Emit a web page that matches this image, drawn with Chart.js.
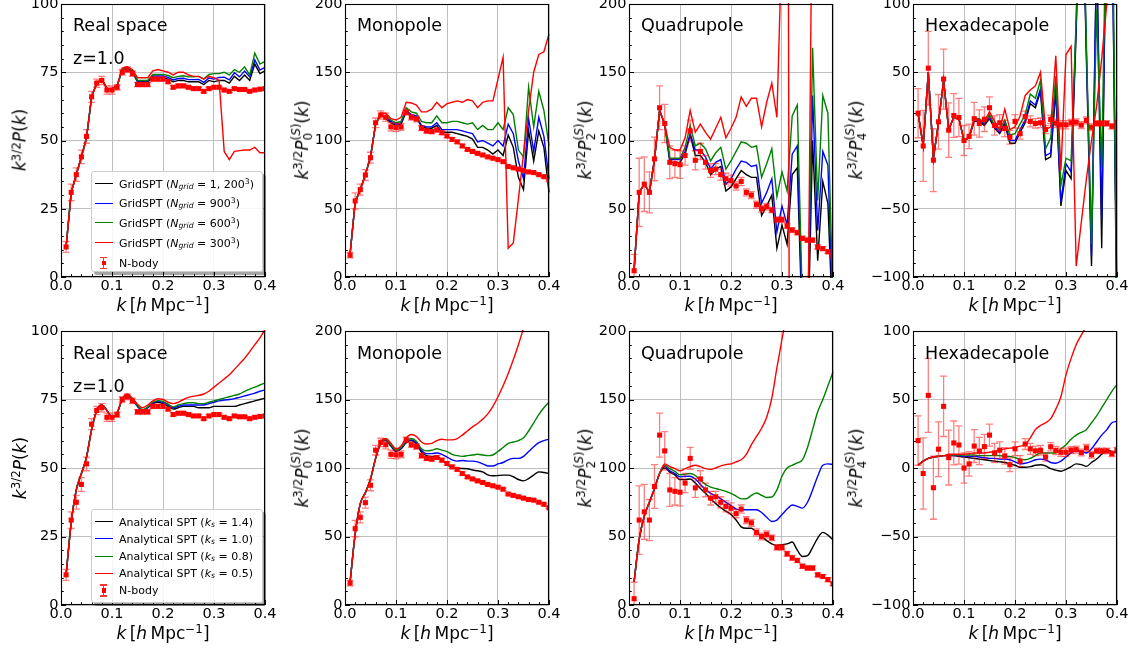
<!DOCTYPE html>
<html>
<head>
<meta charset="utf-8">
<script src="https://cdn.jsdelivr.net/npm/chart.js@4.4.1/dist/chart.umd.min.js"></script>
<style>
  body { margin: 0; background: #fff; font-family: "DejaVu Sans", sans-serif; }
  #wrap { position: relative; width: 1138px; height: 651px; overflow: hidden; }
  canvas { position: absolute; }
  .ttl { position: absolute; font-size: 17.5px; line-height: 1; white-space: nowrap; color: #000; }
  .xl { position: absolute; font-size: 17px; line-height: 1; white-space: nowrap; transform: translate(-50%, -50%); }
  .yl { position: absolute; font-size: 17px; line-height: 1; white-space: nowrap; transform: translate(-50%, -50%) rotate(-90deg); }
  .xl sup, .yl sup, .lg sup { font-size: 70%; line-height: 0; vertical-align: 0.45em; }
  .lg sub { font-size: 70%; line-height: 0; vertical-align: -0.25em; }
  .ss { display: inline-block; font-size: 70%; line-height: 1; vertical-align: -0.35em; }
  .ss span { display: block; }
  .lg { position: absolute; background: rgba(255,255,255,0.85); border: 1px solid #ccc; border-radius: 3px;
        box-shadow: 3px 3px 0 rgba(0,0,0,0.35); font-size: 11px; }
  .lg .smp { position: absolute; left: 3px; width: 18px; height: 0; }
  .lg .txt { position: absolute; left: 27px; line-height: 1; white-space: nowrap; transform: translateY(-50%); }
</style>
</head>
<body>
<div id="wrap"></div>
<script>
// wavenumbers k [h/Mpc]
const kVals = [0.01, 0.02, 0.03, 0.04, 0.05, 0.06, 0.07, 0.08, 0.09, 0.10,
               0.11, 0.12, 0.13, 0.14, 0.15, 0.16, 0.17, 0.18, 0.19, 0.20,
               0.21, 0.22, 0.23, 0.24, 0.25, 0.26, 0.27, 0.28, 0.29, 0.30,
               0.31, 0.32, 0.33, 0.34, 0.35, 0.36, 0.37, 0.38, 0.39, 0.40];

// N-body measurements (same in both rows)
const nbodyReal = [11, 31, 37.5, 44, 51.5, 66, 71, 72, 68.5, 68.5, 69.5, 75, 76, 74.5, 70.5, 70.5, 70.5, 72.5, 72.5, 72.5,
                   71.5, 69.5, 70, 70, 69.5, 69, 69, 68, 69, 69.5, 69.5, 68.5, 68, 69, 68.7, 68.7, 68, 68.5, 68.8, 69];
const errReal = [2, 3, 2.5, 2.5, 2.5, 2, 1.5, 1.5, 1.5, 1.5, 1, 1, 1, 1, 0.8, 0.8, 0.8, 0.7, 0.7, 0.7,
                 0.6, 0.6, 0.6, 0.6, 0.5, 0.5, 0.5, 0.5, 0.5, 0.5, 0.4, 0.4, 0.4, 0.4, 0.4, 0.4, 0.4, 0.4, 0.4, 0.4];
const nbodyMono = [16, 55.7, 64, 74.7, 87.4, 113, 118.7, 117, 110, 109.6, 110, 120.6, 117, 115.7, 109, 107, 106.5, 107.7, 105.7, 103.3,
                   100.8, 99, 96, 93.5, 92, 90.6, 89.4, 88, 87, 86, 84.5, 81, 80, 79, 78, 77, 76.5, 75, 73.5, 71];
const errMono = [2, 6, 4, 4, 4, 3.5, 3, 3, 3, 3, 2.5, 2, 2, 2, 1.8, 1.5, 1.5, 1.3, 1.3, 1.2,
                 1.2, 1.1, 1.1, 1, 1, 1, 1, 0.9, 0.9, 0.9, 0.8, 0.8, 0.8, 0.8, 0.7, 0.7, 0.7, 0.7, 0.7, 0.7];
const nbodyQuad = [4.6, 62, 68, 62, 86.5, 124, 112.5, 84, 83, 82.3, 89, 107, 85.5, 92, 84, 78, 79, 75, 72, 70.6,
                   66.7, 70, 62, 60, 53, 50, 51.5, 49, 42, 42, 37.4, 34.4, 32.5, 28.3, 27, 27, 22, 20.8, 18.5, 15.4];
const errQuad = [12, 25, 20, 15, 16, 16, 14, 12, 10, 10, 7, 8, 7, 6, 5, 5, 4, 4, 4, 4,
                 3, 3, 2.5, 2.5, 2.5, 2.5, 2.5, 2, 2, 2, 1.8, 1.8, 1.6, 1.6, 1.5, 1.5, 1.5, 1.4, 1.4, 1.3];
const nbodyHexa = [20, -4, 53, -14.4, 13.7, 45, 7.6, 18.3, 16.8, 0, 3, 16, 12.4, 15.6, 24, 11, 13, 8.8, 2.4, 14,
                   5, 17.5, 14, 12.5, 13, 8, 15.5, 12.7, 11.5, 11.5, 13, 13.4, 11.3, 14.7, 9.7, 12.5, 12.5, 12.5, 10.4, 13];
const errHexa = [18, 26, 27, 23, 20, 22, 20, 16, 14, 11, 9, 12, 10, 9, 8, 7, 6, 6, 5, 5,
                 4, 4, 4, 3.5, 3.5, 3, 3, 3, 3, 3, 2.5, 2.5, 2.5, 2.5, 2.5, 2, 2, 2, 2, 2];

// GridSPT, N_grid = 1200^3 / 900^3 / 600^3 / 300^3
const gridRealK = [11, 31, 37.5, 44, 51, 66, 71, 72.5, 69, 69, 70, 76, 76.5, 75, 71.5, 71.5, 71.5, 73, 73, 73,
                   72.5, 71.5, 72, 72, 71.5, 71.5, 71.5, 70.5, 72, 71.5, 72, 72, 71, 73.5, 72, 74, 72, 78, 74.5, 75.5];
const gridRealB = [11, 31, 37.5, 44, 51, 66, 71, 72.5, 69, 69, 70, 76, 76.7, 75.2, 71.8, 71.8, 71.8, 73.6, 73.6, 73.6,
                   73.1, 72.2, 72.7, 72.8, 72.3, 72.3, 72.4, 71.3, 72.9, 72.5, 73.1, 73.2, 72.2, 74.8, 73.3, 75.4, 73.3, 79.5, 75.8, 76.8];
const gridRealG = [11, 31, 37.5, 44, 51, 66, 71, 72.5, 69, 69, 70, 76, 77, 75.5, 72, 72, 72, 74.2, 74.2, 74.2,
                   73.8, 73, 73.5, 73.7, 73.3, 73.3, 73.5, 72.5, 74.2, 74.5, 74.5, 75, 74, 76, 75, 77, 74, 82, 78, 79];
const gridRealR = [11, 31, 37.5, 44, 51, 66, 71, 72.5, 69, 69, 70, 76.5, 77, 76, 73, 73, 73, 75.5, 76, 75.5,
                   75, 74, 75, 75, 74, 73.5, 73.5, 72.5, 73.5, 73, 72, 46, 43, 46, 46.3, 46.5, 46.5, 47.5, 45.5, 45.5];

const gridMonoK = [17, 55, 64, 75, 88, 112, 119, 116, 113, 111, 112, 121, 118, 117, 110, 109, 109, 111, 106, 106,
                   106, 105, 104, 103, 101, 95, 95, 93, 90, 93, 89, 104, 95, 73, 64, 107, 85, 107, 95, 62];
const gridMonoB = [17, 55, 64, 75, 88, 112, 119, 117, 114, 112, 113, 122, 119, 118, 111, 110, 110, 113, 108, 108,
                   108, 108, 107, 106, 105, 99, 100, 98, 96, 100, 96, 112, 105, 85, 72, 116, 92, 117, 103, 72];
const gridMonoG = [17, 55, 64, 75, 88, 112, 119, 118, 115, 113, 114, 124, 121, 120, 114, 113, 113, 118, 113, 113,
                   114, 114, 113, 112, 113, 108, 111, 108, 108, 113, 108, 124, 119, 93, 88, 139, 110, 136, 122, 96];
const gridMonoR = [17, 55, 64, 75, 88, 112, 120, 120, 116, 115, 117, 128, 127.5, 126, 121, 121, 123, 128, 124, 127,
                   128, 129, 128, 130, 129, 124, 128, 129, 129, 145, 161, 21, 25, 57, 90, 122, 150, 163, 165, 178];

const gridQuadK = [5, 62, 68, 62, 86, 122, 112, 84, 84, 84, 90, 104, 89, 89, 84, 75, 79, 81, 63, 66,
                   72, 78, 75, 73, 73, 45, 52, 60, 21, 38, 24, 75, 80, -40, -60, 100, 12, 70, 54, -40];
const gridQuadB = [5, 62, 68, 62, 86, 122, 112, 86, 86, 86, 92, 105, 93, 93, 88, 79, 84, 86, 68, 72,
                   79, 85, 84, 81, 82, 54, 62, 72, 33, 52, 38, 90, 96, -30, -50, 133, 34, 92, 82, -30];
const gridQuadG = [5, 62, 68, 62, 86, 122, 112, 87, 87, 87, 95, 111, 96, 98, 94, 85, 91, 95, 79, 85,
                   92, 99, 98, 95, 96, 73, 83, 94, 59, 77, 63, 118, 126, -20, -40, 168, 56, 133, 120, -20];
const gridQuadR = [5, 62, 68, 62, 86, 122, 112, 95, 93, 93, 102, 122, 106, 112, 106, 101, 109, 117, 102, 109,
                   117, 132, 125, 131, 131, 110, 128, 142, 117, 250, 600, -900, -400, -600, -80, 320, 400, 350, 420, 380];

const gridHexaK = [20, -4, 50, -13, 13, 44, 8, 17, 16, 0, 2, 14, 14, 11, 16, 9, 5, 12, -2, -2,
                   6, 13, 27, 24, 36, -14, -12, 36, -48, -22, -28, 80, 220, 60, -92, 140, -79, 200, 180, -150];
const gridHexaB = [20, -4, 50, -13, 13, 44, 8, 17, 16, 0, 2, 15, 15, 12, 17, 10, 6, 13, 0, 0,
                   8, 15, 29, 26, 38, -11, -9, 40, -45, -17, -23, 85, 230, 65, -85, 140, -58, 190, 170, -120];
const gridHexaG = [20, -4, 50, -13, 13, 44, 8, 17, 16, 0, 2, 16, 16, 13, 19, 11, 8, 15, 4, 5,
                   12, 19, 34, 31, 44, -6, 2, 47, -33, -13, -15, 90, 240, 70, -76, 96, -20, 200, 220, -140];
const gridHexaR = [20, -4, 50, -13, 13, 44, 8, 17, 16, 0, 3, 16, 15, 14, 21, 14, 8, 23, 8, 10,
                   18, 33, 37, 40, 50, 8, 10, 62, -22, 63, 69, -92, -60, -28, 0, 25, 60, 100, 140, 180];

// Analytical SPT, k_s = 1.4 / 1.0 / 0.8 / 0.5
const anaRealK = [11, 30, 42, 48, 54, 64, 71, 73, 71, 68.5, 70, 75, 76.5, 75, 72.5, 71, 72, 73.5, 74, 73.5,
                  72.5, 71.5, 72, 72.5, 72.5, 72.5, 72, 72, 72, 72.5, 72.5, 72.5, 72.5, 72.5, 73, 73.5, 74, 74.5, 75, 75.5];
const anaRealB = [11, 30, 42, 48, 54, 64, 71, 73, 71, 68.5, 70, 75, 76.5, 75, 72.5, 71, 72, 73.7, 74.3, 74,
                  73, 72, 72.5, 73, 73, 73, 73, 73, 73.5, 74, 74.5, 74.8, 75, 75.3, 75.8, 76.3, 76.8, 77.3, 78, 78.5];
const anaRealG = [11, 30, 42, 48, 54, 64, 71, 73, 71, 68.5, 70, 75, 76.6, 75.2, 72.8, 71.3, 72.3, 74, 74.6, 74.3,
                  73.3, 72.3, 73, 73.5, 73.8, 73.8, 73.5, 73.5, 74, 74.5, 75, 75.5, 76, 76.5, 77, 78, 78.8, 79.5, 80.3, 81];
const anaRealR = [11, 30, 42, 48, 54, 64, 71, 73, 71, 68.7, 70.3, 75.3, 77, 75.5, 73.3, 72, 73, 74.5, 75.3, 75,
                  74, 73.5, 74, 75, 75.8, 76.2, 76.5, 77, 78, 79.5, 81, 82.5, 84, 86, 88, 90, 92.5, 95, 97.5, 100.5];

const anaMonoK = [17, 52, 74, 82, 92, 107, 118, 120, 116, 112, 114, 118.5, 120, 117.5, 111.5, 109, 108.5, 108.5, 106, 102.5,
                  100.5, 99.6, 99.6, 99.5, 98.5, 98, 97.2, 95, 94.3, 94.5, 94.8, 94.8, 93.6, 91.6, 90.6, 92.3, 94.8, 97.2, 96.7, 96];
const anaMonoB = [17, 52, 74, 82, 92, 107, 118, 120.5, 116.5, 112.5, 114.5, 119, 120.5, 118.5, 113, 110.5, 110.5, 111, 110, 108,
                  106, 105, 105.5, 105, 105, 104.5, 103, 101.5, 101.5, 103, 104, 106, 107, 107, 108.5, 112, 115.5, 118.5, 120, 121];
const anaMonoG = [17, 52, 74, 82, 92, 107, 118, 121, 117, 113, 115, 119.5, 121.5, 119.5, 114, 112.5, 113, 114, 113, 112,
                  110, 109, 108.5, 109, 109.5, 110, 109.5, 109, 109.5, 112, 115, 118, 119, 120, 122, 127, 133, 139, 144, 148];
const anaMonoR = [17, 52, 74, 82, 92, 107, 119, 121.5, 118, 114, 116, 122, 124.5, 123, 119, 117.5, 118, 120, 121, 120.5,
                  120.5, 121.5, 124, 127, 130, 132.5, 135.5, 139.5, 145, 152, 160, 169, 179, 190, 202, 215, 228, 242, 256, 270];

const anaQuadK = [17, 48, 65, 75, 85, 96, 100, 97, 95, 91.5, 91.5, 92, 89, 85, 81.5, 77.5, 74, 71, 68.5, 66,
                  62, 57, 56, 56, 53, 50, 47, 44.6, 43.4, 44, 44.6, 46, 40, 35.4, 36, 42, 48.8, 53, 51, 47.6];
const anaQuadB = [17, 48, 65, 75, 85, 96, 101, 98, 96, 93.5, 94, 94, 92, 88, 84.5, 81.5, 79.5, 77.5, 75, 72.5,
                  70, 69.5, 69.5, 69.5, 69.5, 67.5, 64, 61, 62, 66, 70, 73, 72, 70.7, 75, 84, 94, 102, 103, 102.5];
const anaQuadG = [17, 48, 65, 75, 85, 96, 102, 99.5, 97.5, 95, 95.5, 96, 94.5, 91, 88, 86, 85, 84, 83, 81.5,
                  79.5, 77.5, 77.6, 80, 81.7, 80, 78.5, 78.8, 84, 94, 100, 102, 103.7, 106, 115, 128, 141, 150, 160, 170];
const anaQuadR = [17, 48, 65, 75, 85, 96, 103, 101, 99.5, 98, 99.5, 101, 102, 101, 99.5, 99, 100, 101.5, 102.5, 103,
                  104.5, 106, 110, 117, 123, 129, 137, 151, 173, 194, 215, 240, 270, 300, 330, 360, 390, 420, 450, 480];

const anaHexaK = [2, 5, 7, 8, 8.5, 9, 9, 9, 8.5, 8, 7.5, 7, 6.5, 6, 5.5, 5, 4.5, 4, 3, 2,
                  0.5, 0.5, 1, 2, 2.4, 1.5, -0.5, -1.5, -2.4, -1, 1, 3, 2.5, 1.2, 4, 6.6, 10, 13, 12, 11];
const anaHexaB = [2, 5, 7, 8, 8.5, 9, 9, 9, 9, 8.5, 8.5, 8.5, 8, 7.5, 7, 7, 6.5, 6.5, 6, 4.5,
                  3, 3.5, 4.5, 6, 6.5, 6, 4, 3.5, 5, 8, 11, 13, 12, 11, 14, 19, 24, 28, 33, 34];
const anaHexaG = [2, 5, 7, 8, 8.5, 9, 9.5, 9.5, 9.5, 9.5, 9.5, 9.5, 9, 9, 9, 9, 9, 8.5, 8.5, 7.5,
                  6.5, 6, 7, 9, 11, 11, 11, 11, 14, 17, 21, 24, 26, 28, 33, 38, 44, 50, 56, 61];
const anaHexaR = [2, 5, 7, 8, 8.5, 9, 10, 10, 10, 10, 10.5, 11, 11, 11, 11.5, 12, 13, 14, 14.5, 15,
                  16, 17, 22, 28, 31, 33, 36, 43, 52, 68, 80, 90, 97, 104, 115, 128, 142, 156, 170, 185];

const lineColors = ['#000000', '#0000ff', '#008000', '#ff0000'];
const gridLegend = ['GridSPT (<i>N</i><sub><i>grid</i></sub> = 1, 200<sup>3</sup>)',
                    'GridSPT (<i>N</i><sub><i>grid</i></sub> = 900<sup>3</sup>)',
                    'GridSPT (<i>N</i><sub><i>grid</i></sub> = 600<sup>3</sup>)',
                    'GridSPT (<i>N</i><sub><i>grid</i></sub> = 300<sup>3</sup>)'];
const anaLegend = ['Analytical SPT (<i>k</i><sub><i>s</i></sub> = 1.4)',
                   'Analytical SPT (<i>k</i><sub><i>s</i></sub> = 1.0)',
                   'Analytical SPT (<i>k</i><sub><i>s</i></sub> = 0.8)',
                   'Analytical SPT (<i>k</i><sub><i>s</i></sub> = 0.5)'];

const yReal = '<i>k</i><sup>3/2</sup><i>P</i>(<i>k</i>)';
const yPole = n => '<i>k</i><sup>3/2</sup><i>P</i><span class="ss"><span>(<i>S</i>)</span><span>' + n + '</span></span>(<i>k</i>)';
const xLabel = '<i>k</i>&#8201;[<i>h</i>&#8201;Mpc<sup>\u22121</sup>]';

const poles = [
  {title: 'Real space', yMin: 0, yMax: 100, yStep: 25, yLab: yReal, yOff: -41, nbody: nbodyReal, err: errReal,
   grid: [gridRealK, gridRealB, gridRealG, gridRealR], ana: [anaRealK, anaRealB, anaRealG, anaRealR]},
  {title: 'Monopole', yMin: 0, yMax: 200, yStep: 50, yLab: yPole(0), yOff: -42, nbody: nbodyMono, err: errMono,
   grid: [gridMonoK, gridMonoB, gridMonoG, gridMonoR], ana: [anaMonoK, anaMonoB, anaMonoG, anaMonoR]},
  {title: 'Quadrupole', yMin: 0, yMax: 200, yStep: 50, yLab: yPole(2), yOff: -43, nbody: nbodyQuad, err: errQuad,
   grid: [gridQuadK, gridQuadB, gridQuadG, gridQuadR], ana: [anaQuadK, anaQuadB, anaQuadG, anaQuadR]},
  {title: 'Hexadecapole', yMin: -100, yMax: 100, yStep: 50, yLab: yPole(4), yOff: -56, nbody: nbodyHexa, err: errHexa,
   grid: [gridHexaK, gridHexaB, gridHexaG, gridHexaR], ana: [anaHexaK, anaHexaB, anaHexaG, anaHexaR]}
];

const plotLefts = [61, 345, 629, 913];
const plotTops = [3, 331];
const plotW = 204, plotH = 274;
const leftRoom = 70, rightRoom = 14, bottomRoom = 24;
const tickFont = {family: 'DejaVu Sans', size: 14.5};
const wrap = document.getElementById('wrap');

const toXY = ys => ys.map((v, i) => ({x: kVals[i], y: v}));

// error bars for the N-body points, drawn just before the markers
const errorBars = {
  id: 'errorBars',
  beforeDatasetDraw(chart, args) {
    const ds = chart.data.datasets[args.index];
    if (!ds.errors) return;
    const {ctx, chartArea: a, scales: {y}} = chart;
    ctx.save();
    ctx.beginPath();
    ctx.rect(a.left, a.top, a.width, a.height);
    ctx.clip();
    ctx.strokeStyle = 'rgba(255,0,0,0.5)';
    ctx.lineWidth = 1.3;
    args.meta.data.forEach((pt, i) => {
      const v = ds.data[i].y, e = ds.errors[i];
      const y1 = y.getPixelForValue(v + e), y2 = y.getPixelForValue(v - e);
      ctx.beginPath();
      ctx.moveTo(pt.x, y1); ctx.lineTo(pt.x, y2);
      ctx.moveTo(pt.x - 3.5, y1); ctx.lineTo(pt.x + 3.5, y1);
      ctx.moveTo(pt.x - 3.5, y2); ctx.lineTo(pt.x + 3.5, y2);
      ctx.stroke();
    });
    ctx.restore();
  }
};

// matplotlib-like frame with inward major and minor ticks
const frame = {
  id: 'frame',
  afterDatasetsDraw(chart) {
    const {ctx, chartArea: a, scales: {x, y}} = chart;
    ctx.save();
    ctx.strokeStyle = '#000';
    ctx.lineWidth = 1;
    ctx.beginPath();
    const xs = x.options.ticks.stepSize, ys = y.options.ticks.stepSize;
    for (let i = 0; i <= Math.round((x.max - x.min) / xs * 5); i++) {
      const px = Math.round(x.getPixelForValue(x.min + i * xs / 5)) + 0.5;
      const len = i % 5 === 0 ? 5 : 2.8;
      ctx.moveTo(px, a.bottom); ctx.lineTo(px, a.bottom - len);
    }
    for (let i = 0; i <= Math.round((y.max - y.min) / ys * 5); i++) {
      const py = Math.round(y.getPixelForValue(y.min + i * ys / 5)) + 0.5;
      const len = i % 5 === 0 ? 5 : 2.8;
      ctx.moveTo(a.left, py); ctx.lineTo(a.left + len, py);
    }
    ctx.stroke();
    ctx.lineWidth = 1.1;
    ctx.strokeRect(Math.round(a.left) + 0.5, Math.round(a.top) + 0.5, Math.round(a.width) - 1, Math.round(a.height) - 1);
    ctx.restore();
  }
};

function addDiv(cls, html, css) {
  const d = document.createElement('div');
  d.className = cls;
  d.innerHTML = html;
  Object.assign(d.style, css);
  wrap.appendChild(d);
  return d;
}

function makeLegend(labels, box, first, step) {
  const lg = addDiv('lg', '', {left: box[0] + 'px', top: box[1] + 'px', width: box[2] + 'px', height: box[3] + 'px'});
  labels.forEach((t, i) => {
    const yc = first + step * i;
    const s = document.createElement('div');
    s.className = 'smp';
    s.style.top = (yc - 0.7) + 'px';
    s.style.borderTop = '1.5px solid ' + lineColors[i];
    lg.appendChild(s);
    const tx = document.createElement('div');
    tx.className = 'txt';
    tx.style.top = yc + 'px';
    tx.innerHTML = t;
    lg.appendChild(tx);
  });
  // N-body entry: error bar with caps and a square marker
  const yc = first + step * 4;
  const mk = document.createElement('div');
  mk.style.cssText = 'position:absolute;left:8px;top:' + (yc - 6) + 'px;width:7px;height:12px;';
  mk.innerHTML = '<div style="position:absolute;left:3px;top:0;width:1.3px;height:12px;background:#f33"></div>' +
                 '<div style="position:absolute;left:0;top:0;width:7px;height:1.3px;background:#f33"></div>' +
                 '<div style="position:absolute;left:0;top:11px;width:7px;height:1.3px;background:#f33"></div>' +
                 '<div style="position:absolute;left:1.5px;top:4px;width:4.5px;height:4.5px;background:#f00"></div>';
  lg.appendChild(mk);
  const tx = document.createElement('div');
  tx.className = 'txt';
  tx.style.top = yc + 'px';
  tx.textContent = 'N-body';
  lg.appendChild(tx);
}

[0, 1].forEach(row => {
  poles.forEach((p, col) => {
    const L = plotLefts[col], T = plotTops[row];
    const padTop = Math.min(12, T);
    const W = leftRoom + plotW + rightRoom, H = padTop + plotH + bottomRoom;
    const cv = document.createElement('canvas');
    cv.width = W; cv.height = H;
    cv.style.left = (L - leftRoom) + 'px';
    cv.style.top = (T - padTop) + 'px';
    cv.style.width = W + 'px';
    cv.style.height = H + 'px';
    wrap.appendChild(cv);

    const series = row === 0 ? p.grid : p.ana;
    const datasets = [{
      data: toXY(p.nbody), errors: p.err, showLine: false,
      pointStyle: 'rect', pointRadius: 3.6, pointBackgroundColor: '#ff0000', pointBorderWidth: 0
    }];
    for (let i = 3; i >= 0; i--) {
      datasets.push({
        data: toXY(series[i]), borderColor: lineColors[i], borderWidth: 1.4, pointRadius: 0,
        tension: 0, cubicInterpolationMode: row === 1 ? 'monotone' : 'default', clip: 1
      });
    }

    new Chart(cv, {
      type: 'line',
      data: {datasets},
      options: {
        responsive: false, animation: false, events: [],
        layout: {padding: {top: padTop, right: rightRoom, bottom: 0, left: 0}},
        plugins: {legend: {display: false}, tooltip: {enabled: false}},
        scales: {
          x: {
            type: 'linear', min: 0, max: 0.4,
            grid: {color: '#b8b8b8', lineWidth: 0.9, drawTicks: false},
            border: {display: false},
            ticks: {stepSize: 0.1, autoSkip: false, maxRotation: 0, padding: 1, color: '#000', font: tickFont,
                    callback: v => v.toFixed(1)},
            afterFit: s => { s.height = bottomRoom; s.paddingLeft = 0; s.paddingRight = 0; }
          },
          y: {
            min: p.yMin, max: p.yMax,
            grid: {color: '#b8b8b8', lineWidth: 0.9, drawTicks: false},
            border: {display: false},
            ticks: {stepSize: p.yStep, autoSkip: false, padding: 2.5, color: '#000', font: tickFont,
                    callback: v => v < 0 ? '\u2212' + Math.abs(v) : String(v)},
            afterFit: s => { s.width = leftRoom; s.paddingTop = 0; s.paddingBottom = 0; }
          }
        }
      },
      plugins: [errorBars, frame]
    });

    // texts
    addDiv('ttl', p.title, {left: (L + 12) + 'px', top: (T + 14) + 'px'});
    if (col === 0) addDiv('ttl', 'z=1.0', {left: (L + 12) + 'px', top: (T + 47) + 'px'});
    addDiv('xl', xLabel, {left: (L + plotW / 2) + 'px', top: (T + plotH + 28) + 'px'});
    addDiv('yl', p.yLab, {left: (L + p.yOff) + 'px', top: (T + plotH / 2) + 'px'});
  });
});

makeLegend(gridLegend, [91, 171, 170, 99], 11.7, 19.7);
makeLegend(anaLegend, [91, 509, 170, 92], 12, 17.1);
</script>
</body>
</html>
